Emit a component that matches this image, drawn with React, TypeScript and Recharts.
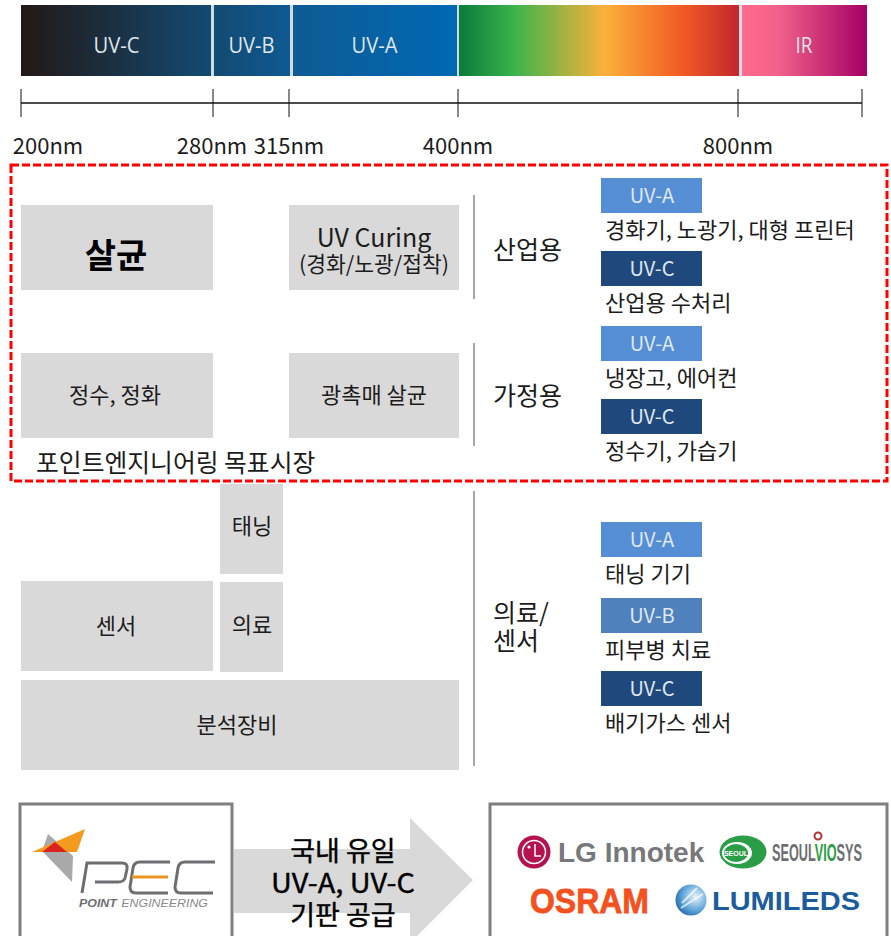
import React from "react";
import { ComposedChart, XAxis, YAxis, Scatter, ReferenceArea, ReferenceDot, ReferenceLine } from "recharts";

const WIDTH = 891;
const HEIGHT = 936;
const FONT = '"Noto Sans CJK KR", "Noto Sans", sans-serif';
const LATIN = '"Open Sans", "Noto Sans", sans-serif';
const LOGO = '"Liberation Sans", sans-serif';
const NARROW = '"Liberation Sans Narrow", sans-serif';

// wavelength ruler
const nmTicks = [200, 280, 315, 400, 800];
const nmLabels = ["200nm", "280nm", "315nm", "400nm", "800nm"];
const rulerEnd = 1000;
const nmStops = [200, 280, 315, 400, 800, 1000];
const nmAxis = [21, 213, 289, 458, 738, 862];
const nm = (v: number) => nmAxis[nmStops.indexOf(v)];

// spectrum strip
const bandNames = ["UV-C", "UV-B", "UV-A", "", "IR"];
const bandFrom = [21, 214, 293, 459, 742];
const bandTo = [211, 290, 457, 739, 867];
const bandFill = ["url(#uvc)", "url(#uvb)", "url(#uva)", "url(#vis)", "url(#ir)"];

// market boxes: wavelength span plus row
const boxNames = ["정수, 정화", "광촉매 살균", "센서", "분석장비"];
const boxFrom = [200, 315, 200, 200];
const boxTo = [280, 400, 280, 400];
const boxTop = [353, 353, 581, 680];
const boxBottom = [438, 438, 671, 770];

const sectionNames = [["산업용"], ["가정용"], ["의료/", "센서"]];
const sectionTop = [195, 343, 491];
const sectionBottom = [299, 446, 766];
const sectionLabelY = [[249], [395], [612, 640]];

const chipNames = ["UV-A", "UV-C", "UV-A", "UV-C", "UV-A", "UV-B", "UV-C"];
const chipTop = [178, 251, 326, 399, 522, 598, 671];
const chipCaptions = ["경화기, 노광기, 대형 프린터", "산업용 수처리", "냉장고, 에어컨", "정수기, 가습기", "태닝 기기", "피부병 치료", "배기가스 센서"];
const chipColors: Record<string, string> = { "UV-A": "#558ed5", "UV-B": "#4f81bd", "UV-C": "#1f497d" };

const say = (
  x: number,
  y: number,
  text: string,
  size: number,
  fill = "#1c1c1c",
  anchor = "middle",
  extra: any = {}
) => (
  <ReferenceDot
    key={`${text}-${x}-${y}`}
    x={x}
    y={y}
    r={0}
    shape={(p: any) => (
      <text x={p.cx} y={p.cy - 1.5} fontSize={size} fill={fill} textAnchor={anchor} dominantBaseline="central" fontFamily={FONT} {...extra}>
        {text}
      </text>
    )}
  />
);

const area = (x1: number, x2: number, y1: number, y2: number, fill: string) => (
  <ReferenceArea key={`${x1}-${y1}-${x2}`} x1={x1} x2={x2} y1={y1} y2={y2} fill={fill} fillOpacity={1} stroke="none" />
);

const PecLogo = ({ cx, cy }: any) => (
  <g transform={`translate(${cx},${cy})`}>
    <polygon points="16,-17 41,5 40,31 10,0" fill="#a9a9a9" />
    <polygon points="0,1 53,-22 45,1" fill="#f39a1f" />
    <polygon points="10,1 23,-9 35,1" fill="#d9231f" />
    <g fill="none" stroke="#6d6e71" strokeWidth={3}>
      <path d="M50,42 L55,12 H90 Q96,12 95,18 L93,27 Q92,31 86,31 H63" />
      <path d="M138,11 H108 Q102,11 101,17 L98,36 Q98,42 104,42 H136" />
      <path d="M183,11 H153 Q147,11 146,17 L143,36 Q143,42 149,42 H181" />
    </g>
    <path d="M100,26 H136" stroke="#e9951f" strokeWidth={3} fill="none" />
    <text x={47} y={56} fontSize={11} fontFamily={LOGO} fill="#8a8a8a" textLength={129} lengthAdjust="spacingAndGlyphs">
      <tspan fontWeight={700} fontStyle="italic" fill="#6d6e71">POINT</tspan>
      <tspan fontStyle="italic" dx={4}>ENGINEERING</tspan>
    </text>
  </g>
);

const LgMark = ({ cx, cy }: any) => (
  <g>
    <circle cx={cx} cy={cy} r={16.5} fill="#b5124f" />
    <circle cx={cx} cy={cy} r={11.5} fill="none" stroke="#fff" strokeWidth={1.5} />
    <circle cx={cx - 5} cy={cy - 5} r={1.6} fill="#fff" />
    <path d={`M${cx + 1},${cy - 8} V${cy + 4} H${cx + 7}`} fill="none" stroke="#fff" strokeWidth={1.5} />
  </g>
);

const SeoulMark = ({ cx, cy }: any) => (
  <g>
    <ellipse cx={cx} cy={cy} rx={23.5} ry={16.5} fill="#2a9d46" />
    <ellipse cx={cx - 6} cy={cy + 1} rx={15} ry={11} fill="#fff" />
    <ellipse cx={cx - 7} cy={cy + 1} rx={12} ry={9} fill="#2a9d46" />
    <text x={cx - 7} y={cy + 3.5} fontSize={7} fill="#fff" textAnchor="middle" fontFamily={NARROW} fontWeight={700}>SEOUL</text>
  </g>
);

const SeoulWord = ({ cx, cy }: any) => (
  <g>
    <text x={cx} y={cy} fontSize={24} fontFamily={NARROW} fontWeight={700} fill="#6d6e71" textLength={90} lengthAdjust="spacingAndGlyphs">
      SEOUL<tspan fill="#2a9d46">VIO</tspan>SYS
    </text>
    <circle cx={cx + 46} cy={cy - 25} r={3.5} fill="#fff" stroke="#b5343a" strokeWidth={2} />
  </g>
);

const LumiMark = ({ cx, cy }: any) => (
  <g>
    <circle cx={cx} cy={cy} r={15.5} fill="url(#lumi)" />
    <path d={`M${cx - 10},${cy + 8} L${cx + 12},${cy - 6} M${cx - 9},${cy + 3} L${cx + 6},${cy - 12}`} stroke="#ffffff" strokeWidth={2} opacity={0.7} />
  </g>
);

export default function App() {
  return (
    <div style={{ position: "absolute", left: 0, top: 0, width: WIDTH, height: HEIGHT, overflow: "hidden", background: "#fff" }}>
      <ComposedChart width={WIDTH} height={HEIGHT} margin={{ top: 0, right: 0, bottom: 0, left: 0 }} data={nmTicks.map((v) => ({ x: nm(v), y: 103 }))}>
        <defs>
          <linearGradient id="uvc" x1="0" x2="1" y1="0" y2="0">
            <stop offset="0" stopColor="#231815" />
            <stop offset="1" stopColor="#134a72" />
          </linearGradient>
          <linearGradient id="uvb" x1="0" x2="1" y1="0" y2="0">
            <stop offset="0" stopColor="#134a72" />
            <stop offset="1" stopColor="#0f5a92" />
          </linearGradient>
          <linearGradient id="uva" x1="0" x2="1" y1="0" y2="0">
            <stop offset="0" stopColor="#0f5b94" />
            <stop offset="1" stopColor="#0068b3" />
          </linearGradient>
          <linearGradient id="vis" x1="0" x2="1" y1="0" y2="0">
            <stop offset="0" stopColor="#0b7a3b" />
            <stop offset="0.2" stopColor="#3bb44b" />
            <stop offset="0.52" stopColor="#fbb03b" />
            <stop offset="0.8" stopColor="#f15a24" />
            <stop offset="1" stopColor="#c1272d" />
          </linearGradient>
          <linearGradient id="ir" x1="0" x2="1" y1="0" y2="0">
            <stop offset="0" stopColor="#ff6b8e" />
            <stop offset="0.3" stopColor="#f0608a" />
            <stop offset="1" stopColor="#a50064" />
          </linearGradient>
          <radialGradient id="lumi" cx="0.65" cy="0.4" r="0.75">
            <stop offset="0" stopColor="#e8f2fa" />
            <stop offset="0.6" stopColor="#5aa3d8" />
            <stop offset="1" stopColor="#1a5c9e" />
          </radialGradient>
        </defs>
        <XAxis type="number" dataKey="x" domain={[0, WIDTH]} hide />
        <YAxis type="number" dataKey="y" domain={[0, HEIGHT]} reversed hide />

        {/* spectrum strip */}
        {area(21, 867, 5, 76, "#cfdbe4")}
        {bandNames.map((name, i) => area(bandFrom[i], bandTo[i], 5, 76, bandFill[i]))}
        {bandNames.map((name, i) =>
          name
            ? say((bandFrom[i] + bandTo[i]) / 2 + (name === "UV-C" ? 0.5 : -0.5), 45, name, 22, "#dfe6ec", "middle", {
                fontFamily: LATIN,
                textLength: name === "IR" ? 17 : 46,
                lengthAdjust: "spacingAndGlyphs",
              })
            : null
        )}

        {/* ruler */}
        <ReferenceLine segment={[{ x: nm(200), y: 103 }, { x: nm(rulerEnd), y: 103 }]} stroke="#111" strokeWidth={1.5} />
        <Scatter
          dataKey="y"
          isAnimationActive={false}
          data={[...nmTicks, rulerEnd].map((v) => ({ x: nm(v), y: 103 }))}
          shape={(p: any) => <line x1={p.cx} x2={p.cx} y1={p.cy - 14} y2={p.cy + 14} stroke="#111" strokeWidth={1} />}
        />
        {nmTicks.map((v, i) => say(v === 200 ? 48 : nm(v) - (v === 280 ? 1 : 0), 145, nmLabels[i], 22))}

        {/* target market frame */}
        <ReferenceArea x1={11} x2={887} y1={165} y2={481} fill="none" fillOpacity={0} stroke="#ff0000" strokeWidth={3} strokeDasharray="8 3" />

        {/* market boxes */}
        {area(nm(200), nm(280), 205, 290, "#d9d9d9")}
        {area(nm(315), 459, 205, 290, "#d9d9d9")}
        {boxNames.map((name, i) => area(nm(boxFrom[i]), boxTo[i] === 400 ? 459 : nm(boxTo[i]), boxTop[i], boxBottom[i], "#d9d9d9"))}
        {area(220, 283, 484, 574, "#d9d9d9")}
        {area(220, 283, 582, 672, "#d9d9d9")}

        {say(116, 255, "살균", 34, "#000", "middle", { fontWeight: 700 })}
        {say(374, 237, "UV Curing", 25)}
        {say(374, 264, "(경화/노광/접착)", 21.5)}
        {boxNames.map((name, i) =>
          say(i === 1 ? 374 : i === 3 ? 237 : i === 2 ? 116 : 115, (boxTop[i] + boxBottom[i]) / 2 - 1, name, 22)
        )}
        {say(252, 525, "태닝", 22)}
        {say(252, 624, "의료", 22)}
        {say(36, 462, "포인트엔지니어링 목표시장", 24.8, "#1c1c1c", "start")}

        {/* section separators and labels */}
        {sectionNames.map((lines, i) => (
          <ReferenceLine
            key={`sep-${i}`}
            segment={[{ x: 474, y: sectionTop[i] }, { x: 474, y: sectionBottom[i] }]}
            stroke="#a6a6a6"
            strokeWidth={2}
          />
        ))}
        {sectionNames.map((lines, i) => lines.map((t, j) => say(493, sectionLabelY[i][j], t, 25, "#1c1c1c", "start")))}

        {/* application chips */}
        {chipNames.map((name, i) => (
          <ReferenceArea key={`chip-${i}`} x1={601} x2={702} y1={chipTop[i]} y2={chipTop[i] + 35} fill={chipColors[name]} fillOpacity={1} stroke="none" />
        ))}
        {chipNames.map((name, i) => say(652, chipTop[i] + 18, name, 20, "#dfe8f3"))}
        {chipCaptions.map((text, i) => say(605, chipTop[i] + 51, text, 22, "#1c1c1c", "start"))}

        {/* bottom row */}
        <ReferenceArea x1={20} x2={232} y1={804} y2={950} ifOverflow="visible" fill="#fff" fillOpacity={1} stroke="#7f7f7f" strokeWidth={3} />
        <ReferenceArea x1={490} x2={887} y1={804} y2={950} ifOverflow="visible" fill="#fff" fillOpacity={1} stroke="#7f7f7f" strokeWidth={3} />
        <ReferenceDot
          x={234}
          y={849}
          r={0}
          shape={(p: any) => (
            <polygon
              points={`${p.cx},${p.cy} ${p.cx + 176},${p.cy} ${p.cx + 176},${p.cy - 31} ${p.cx + 239},${p.cy + 31} ${p.cx + 176},${p.cy + 94} ${p.cx + 176},${p.cy + 64} ${p.cx},${p.cy + 64}`}
              fill="#d9d9d9"
            />
          )}
        />
        {say(343, 851, "국내 유일", 27, "#000", "middle", { stroke: "#000", strokeWidth: 0.4 })}
        {say(343, 883, "UV-A, UV-C", 27, "#000", "middle", { textLength: 144, lengthAdjust: "spacingAndGlyphs", stroke: "#000", strokeWidth: 0.4 })}
        {say(343, 915, "기판 공급", 27, "#000", "middle", { stroke: "#000", strokeWidth: 0.4 })}

        <ReferenceDot x={32} y={851} r={0} shape={(p: any) => <PecLogo {...p} />} />
        <ReferenceDot x={534} y={852} r={0} shape={(p: any) => <LgMark {...p} />} />
        {say(558, 854, "LG Innotek", 28, "#77787b", "start", { fontFamily: LOGO, fontWeight: 700 })}
        <ReferenceDot x={743} y={852} r={0} shape={(p: any) => <SeoulMark {...p} />} />
        <ReferenceDot x={772} y={861} r={0} shape={(p: any) => <SeoulWord {...p} />} />
        {say(530, 902, "OSRAM", 35, "#f4511e", "start", { fontFamily: LOGO, fontWeight: 700, textLength: 119, lengthAdjust: "spacingAndGlyphs", stroke: "#f4511e", strokeWidth: 0.8 })}
        <ReferenceDot x={691} y={900} r={0} shape={(p: any) => <LumiMark {...p} />} />
        {say(712, 902, "LUMILEDS", 26, "#1a5c9e", "start", { fontFamily: LOGO, fontWeight: 700, textLength: 148, lengthAdjust: "spacingAndGlyphs" })}
      </ComposedChart>
    </div>
  );
}
